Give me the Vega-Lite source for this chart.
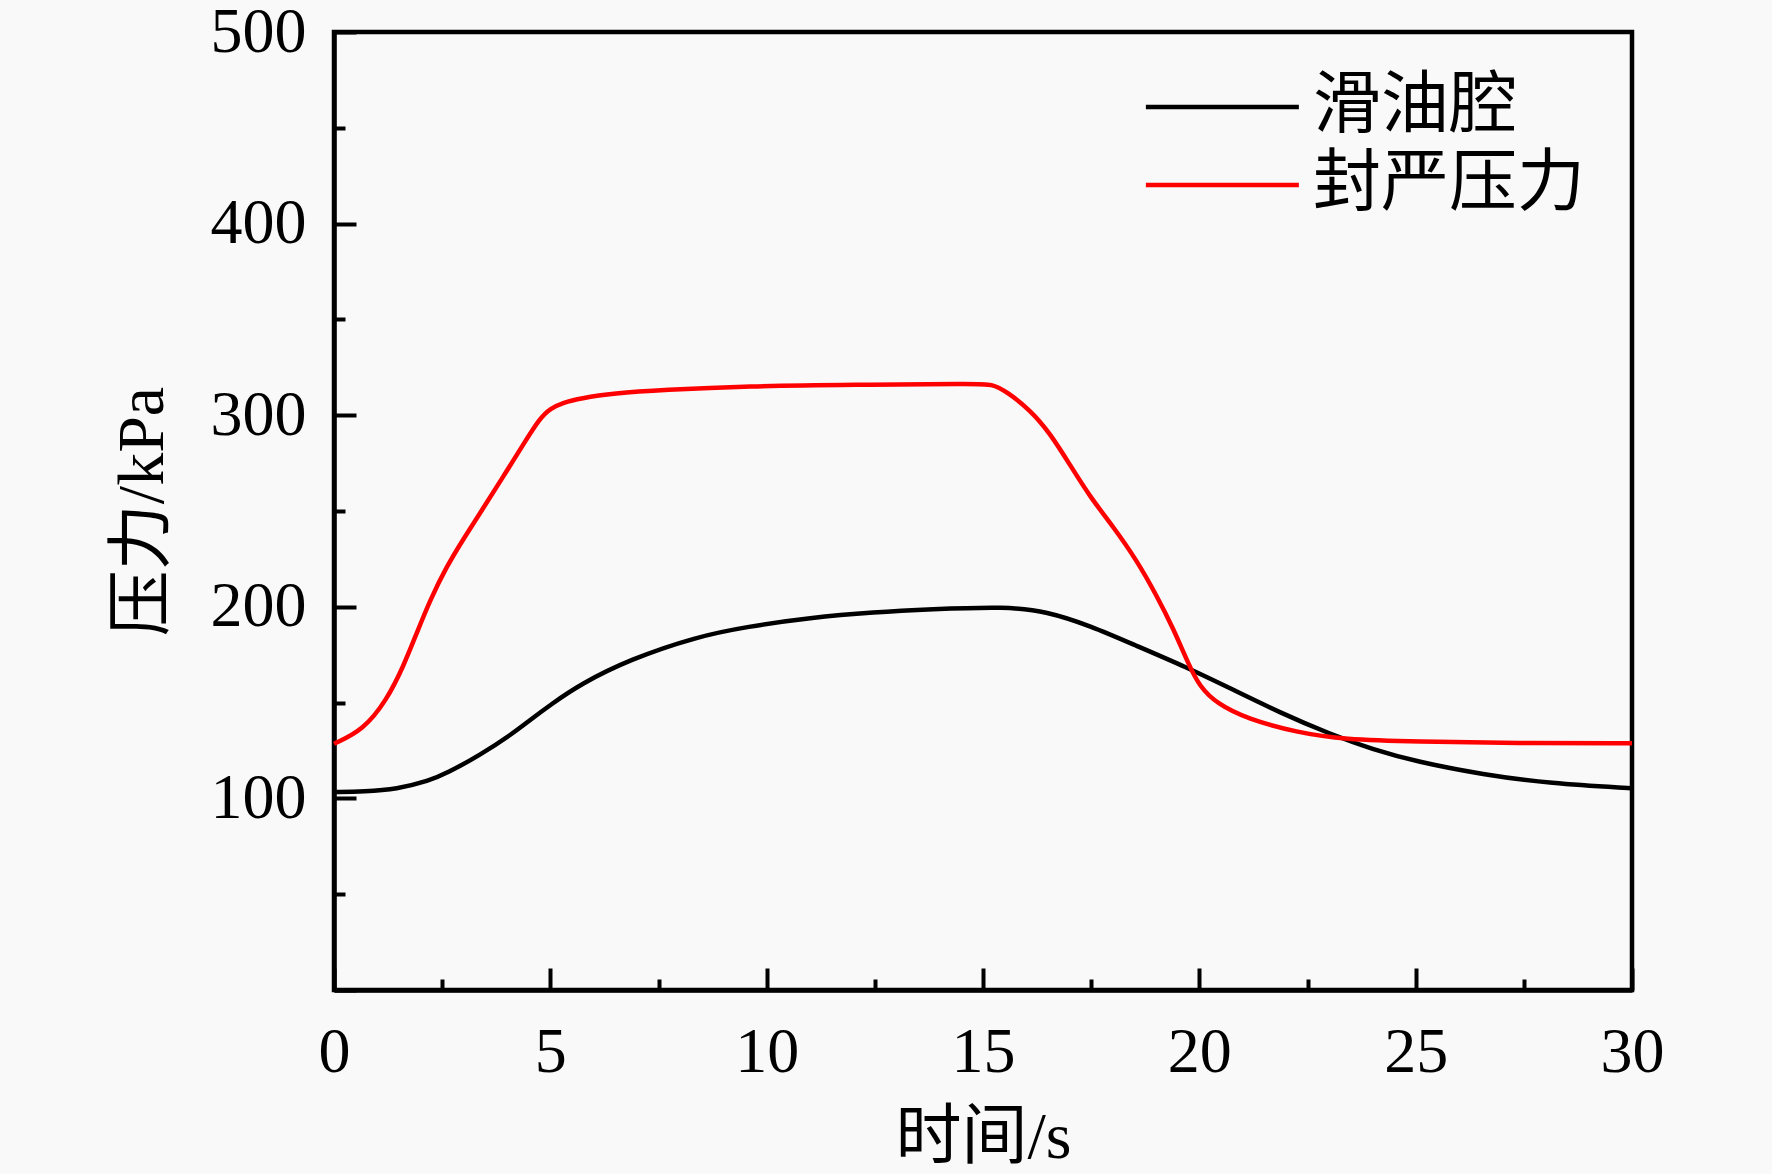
{
  "$schema": "https://vega.github.io/schema/vega-lite/v6.json",
  "width": 1298,
  "height": 958,
  "autosize": {"type": "none"},
  "padding": {"left": 334, "top": 32, "right": 140, "bottom": 184},
  "background": "#f9f9f9",
  "data": {
    "values": [
      {"s": "滑油腔", "t": 0, "p": 103.3},
      {"s": "滑油腔", "t": 0.7, "p": 103.6},
      {"s": "滑油腔", "t": 1.45, "p": 104.8},
      {"s": "滑油腔", "t": 2.2, "p": 109.2},
      {"s": "滑油腔", "t": 2.6, "p": 113.1},
      {"s": "滑油腔", "t": 3.37, "p": 122.5},
      {"s": "滑油腔", "t": 4.14, "p": 134},
      {"s": "滑油腔", "t": 4.53, "p": 140.9},
      {"s": "滑油腔", "t": 5.0, "p": 148.8},
      {"s": "滑油腔", "t": 5.69, "p": 159.6},
      {"s": "滑油腔", "t": 6.84, "p": 172.6},
      {"s": "滑油腔", "t": 8.38, "p": 184.4},
      {"s": "滑油腔", "t": 9.54, "p": 189.6},
      {"s": "滑油腔", "t": 11, "p": 194.3},
      {"s": "滑油腔", "t": 12.5, "p": 197.2},
      {"s": "滑油腔", "t": 13.77, "p": 198.7},
      {"s": "滑油腔", "t": 15.55, "p": 200.1},
      {"s": "滑油腔", "t": 16.47, "p": 197.6},
      {"s": "滑油腔", "t": 17.47, "p": 190.2},
      {"s": "滑油腔", "t": 18.55, "p": 179.6},
      {"s": "滑油腔", "t": 19.71, "p": 168.4},
      {"s": "滑油腔", "t": 20.71, "p": 157.5},
      {"s": "滑油腔", "t": 21.86, "p": 144.8},
      {"s": "滑油腔", "t": 23.02, "p": 133.6},
      {"s": "滑油腔", "t": 24, "p": 125.6},
      {"s": "滑油腔", "t": 25.02, "p": 119.2},
      {"s": "滑油腔", "t": 26.56, "p": 112.4},
      {"s": "滑油腔", "t": 28.1, "p": 107.8},
      {"s": "滑油腔", "t": 30, "p": 105.3},
      {"s": "封严压力", "t": 0, "p": 128.5},
      {"s": "封严压力", "t": 0.68, "p": 135.7},
      {"s": "封严压力", "t": 1.22, "p": 151.4},
      {"s": "封严压力", "t": 1.6, "p": 168.7},
      {"s": "封严压力", "t": 1.91, "p": 186.2},
      {"s": "封严压力", "t": 2.22, "p": 203.5},
      {"s": "封严压力", "t": 2.6, "p": 220.9},
      {"s": "封严压力", "t": 2.99, "p": 235.4},
      {"s": "封严压力", "t": 3.45, "p": 251.5},
      {"s": "封严压力", "t": 3.91, "p": 267.9},
      {"s": "封严压力", "t": 4.37, "p": 284.6},
      {"s": "封严压力", "t": 4.76, "p": 298.5},
      {"s": "封严压力", "t": 5.0, "p": 303.5},
      {"s": "封严压力", "t": 5.3, "p": 306.6},
      {"s": "封严压力", "t": 5.69, "p": 308.8},
      {"s": "封严压力", "t": 6.46, "p": 311.4},
      {"s": "封严压力", "t": 7.61, "p": 313.2},
      {"s": "封严压力", "t": 9.54, "p": 315.2},
      {"s": "封严压力", "t": 12, "p": 315.9},
      {"s": "封严压力", "t": 14.8, "p": 316.4},
      {"s": "封严压力", "t": 15.2, "p": 316.4},
      {"s": "封严压力", "t": 15.55, "p": 312.3},
      {"s": "封严压力", "t": 16.09, "p": 302.7},
      {"s": "封严压力", "t": 16.55, "p": 290.6},
      {"s": "封严压力", "t": 17.01, "p": 274.1},
      {"s": "封严压力", "t": 17.47, "p": 257.5},
      {"s": "封严压力", "t": 18.01, "p": 241.8},
      {"s": "封严压力", "t": 18.55, "p": 224.4},
      {"s": "封严压力", "t": 19.01, "p": 206},
      {"s": "封严压力", "t": 19.4, "p": 188.6},
      {"s": "封严压力", "t": 19.75, "p": 170},
      {"s": "封严压力", "t": 20.01, "p": 158.3},
      {"s": "封严压力", "t": 20.4, "p": 149.6},
      {"s": "封严压力", "t": 21.1, "p": 141.5},
      {"s": "封严压力", "t": 22.3, "p": 134.2},
      {"s": "封严压力", "t": 23.33, "p": 130.8},
      {"s": "封严压力", "t": 25.02, "p": 129.6},
      {"s": "封严压力", "t": 27.33, "p": 128.8},
      {"s": "封严压力", "t": 30, "p": 128.8}
    ]
  },
  "mark": {"type": "line", "interpolate": "basis", "strokeWidth": 4.5},
  "encoding": {
    "x": {
      "field": "t",
      "type": "quantitative",
      "scale": {"domain": [0, 30], "nice": false},
      "title": "时间/s",
      "axis": {
        "values": [0, 2.5, 5, 7.5, 10, 12.5, 15, 17.5, 20, 22.5, 25, 27.5, 30],
        "labelExpr": "datum.value % 5 === 0 ? datum.label : ''",
        "tickSize": {"condition": {"test": "datum.value % 5 === 0", "value": -22}, "value": -11},
        "labelPadding": 52,
        "titlePadding": 10
      }
    },
    "y": {
      "field": "p",
      "type": "quantitative",
      "scale": {"domain": [0, 500], "nice": false},
      "title": "压力/kPa",
      "axis": {
        "values": [0, 50, 100, 150, 200, 250, 300, 350, 400, 450, 500],
        "labelExpr": "datum.value % 100 === 0 && datum.value > 0 ? datum.label : ''",
        "tickSize": {"condition": {"test": "datum.value % 100 === 0", "value": -22}, "value": -11},
        "labelPadding": 50,
        "titlePadding": 34
      }
    },
    "color": {
      "field": "s",
      "type": "nominal",
      "scale": {"domain": ["滑油腔", "封严压力"], "range": ["#000000", "#ff0000"]},
      "legend": {
        "title": null,
        "orient": "none",
        "legendX": 797,
        "legendY": 41,
        "symbolType": "M -1 0 H 7",
        "symbolSize": 1463,
        "symbolStrokeWidth": 4.5,
        "labelOffset": 114,
        "labelFontSize": 68,
        "labelFont": "Liberation Serif, Noto Sans CJK SC",
        "labelColor": "#000000",
        "rowPadding": 10,
        "labelLimit": 400
      }
    }
  },
  "config": {
    "view": {"stroke": "#000000", "strokeWidth": 4.5},
    "axis": {
      "grid": false,
      "domainColor": "#000000",
      "domainWidth": 4.5,
      "tickColor": "#000000",
      "tickWidth": 4,
      "labelFont": "Liberation Serif, Noto Sans CJK SC",
      "labelFontSize": 64,
      "labelColor": "#000000",
      "labelFlush": false,
      "labelOverlap": false,
      "titleFont": "Liberation Serif, Noto Sans CJK SC",
      "titleFontSize": 66,
      "titleFontWeight": "normal",
      "titleColor": "#000000"
    }
  }
}
